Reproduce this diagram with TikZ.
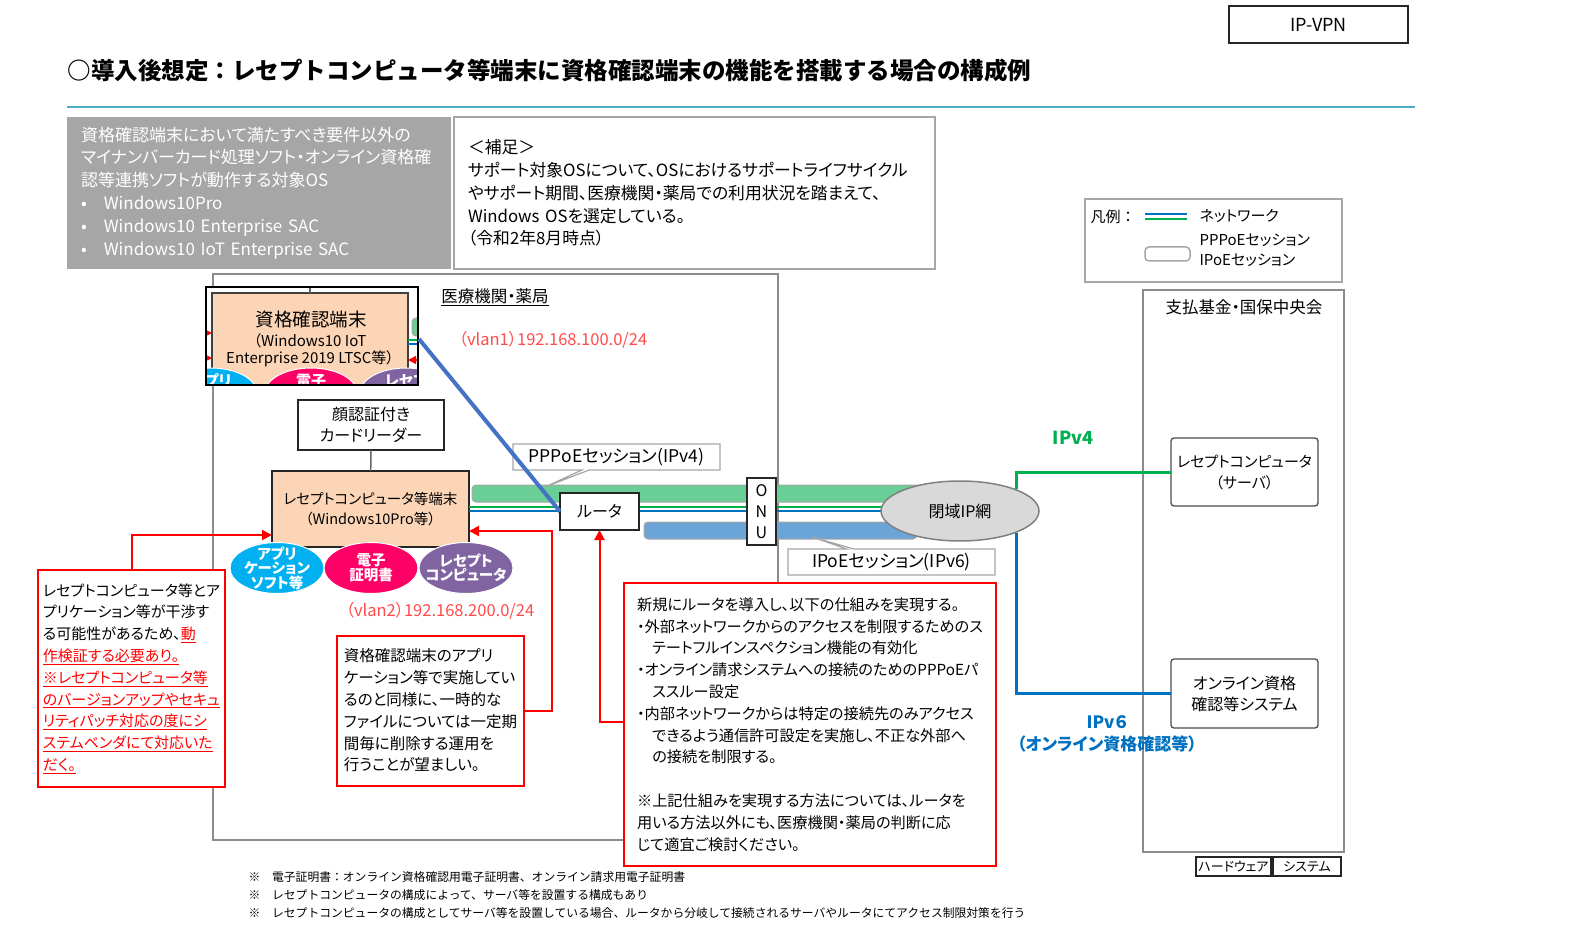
\documentclass[tikz,border=0pt]{standalone}
\usepackage{fontspec}
\setmainfont{Noto Sans CJK JP}[RawFeature=+palt]
\newfontfamily\plainjp{Noto Sans CJK JP}
\usetikzlibrary{shapes.geometric, shapes.callouts, arrows.meta, positioning}
\definecolor{peach}{HTML}{FBD5B5}
\definecolor{osgray}{HTML}{A6A6A6}
\definecolor{framegray}{HTML}{A6A6A6}
\definecolor{pppoegreen}{HTML}{6ACF97}
\definecolor{ipoeblue}{HTML}{6BA5D8}
\definecolor{netgreen}{HTML}{00B050}
\definecolor{netblue}{HTML}{0070C0}
\definecolor{diagblue}{HTML}{4472C4}
\definecolor{softcyan}{HTML}{00B0F0}
\definecolor{softpink}{HTML}{FF0066}
\definecolor{softpurple}{HTML}{8064A2}
\definecolor{cloudgray}{HTML}{D9D9D9}
\definecolor{vlanred}{HTML}{FF4B4B}
\definecolor{tealline}{HTML}{4BACC6}
\newcommand{\setfs}[2]{\fontsize{#1}{#2}\selectfont}
\newcommand{\redul}[1]{\textcolor{red}{\underline{#1}}}

\begin{document}
\begin{tikzpicture}[x=1pt, y=-1pt,
  frame node/.style={draw=framegray, line width=1.2pt, inner sep=0pt, outer sep=0pt},
  main node/.style={draw=black!85, line width=1.3pt, fill=white, align=center, inner sep=0pt, outer sep=0pt, font=\setfs{16}{21}},
  soft node/.style={ellipse, draw=white, line width=1pt, minimum width=94pt, minimum height=51pt, inner sep=-9pt, text=white, align=center, font=\bfseries\setfs{14.5}{14.5}},
  note node/.style={draw=red, line width=2pt, fill=white, align=left, inner sep=5pt, outer sep=0pt},
  session node/.style={rectangle callout, draw=framegray, line width=1.2pt, fill=white, minimum width=207pt, minimum height=26pt, inner sep=0pt, font=\setfs{17.5}{20}},
  pill/.style={draw=framegray, line width=1pt, rounded corners=4pt},
  red arrow/.style={draw=red, line width=2pt, -{Triangle[length=10pt,width=10pt]}},
  green net/.style={draw=netgreen, line width=2.5pt},
  blue net/.style={draw=netblue, line width=2.5pt}]

  \useasboundingbox (0,0) rectangle (1588,949);

  \node[main node, minimum width=179pt, minimum height=37pt, font=\setfs{18}{22}] (vpn) at (1318.5,24.5) {IP-VPN};
  \node[anchor=west, font=\plainjp\bfseries\setfs{23.5}{28}] (title) at (64,71) {○導入後想定：レセプトコンピュータ等端末に資格確認端末の機能を搭載する場合の構成例};
  \draw[draw=tealline, line width=2pt] (67,107) -- (1415,107);

  \node[fill=osgray, inner sep=0pt, minimum width=384pt, minimum height=152pt, text width=356pt, align=left, text=white, font=\setfs{17}{22.8}] (os) at (259,193) {資格確認端末において満たすべき要件以外の\\マイナンバーカード処理ソフト・オンライン資格確\\認等連携ソフトが動作する対象OS\\•\quad Windows10Pro\\•\quad Windows10 Enterprise SAC\\•\quad Windows10 IoT Enterprise SAC};
  \node[frame node, minimum width=481pt, minimum height=152pt, text width=453pt, align=left, font=\setfs{16.8}{22.8}] (note) at (694.5,193) {＜補足＞\\サポート対象OSについて、OSにおけるサポートライフサイクル\\やサポート期間、医療機関・薬局での利用状況を踏まえて、\\Windows OSを選定している。\\（令和2年8月時点）};

  \node[frame node, minimum width=257pt, minimum height=83pt] (legend) at (1213.5,240.5) {};
  \node[anchor=west, font=\plainjp\setfs{15}{18}] (legend title) at (1087,217) {凡例：};
  \draw[blue net] (1145,214) -- (1187,214);
  \draw[green net] (1145,219) -- (1187,219);
  \node[anchor=west, font=\setfs{15}{18}] (legend net) at (1196,216) {ネットワーク};
  \draw[pill, fill=white, line width=1.5pt] (1145,247) rectangle (1190,261);
  \node[anchor=west, align=left, font=\setfs{15}{20}] (legend session) at (1196,250) {PPPoEセッション\\IPoEセッション};

  \node[frame node, draw=black!45, minimum width=565pt, minimum height=566pt] (hosp) at (495.5,557) {};
  \node[font=\setfs{16.5}{20}] (hosp label) at (495,297) {\underline{医療機関・薬局}};
  \node[frame node, draw=black!45, minimum width=201pt, minimum height=562pt] (fund) at (1243.5,571) {};
  \node[font=\setfs{16.5}{20}] (fund label) at (1244,307) {支払基金・国保中央会};

  \begin{scope}
    \clip (206,287) rectangle (418,385);
    \fill[white] (206,287) rectangle (418,385);
    \node[fill=peach, draw=black!75, line width=1.2pt, minimum width=196pt, minimum height=100pt, inner sep=0pt] (inset) at (310,343) {};
    \node[font=\setfs{18.5}{22}] (inset title) at (311,319) {資格確認端末};
    \node[font=\setfs{15}{17}, align=center] (inset os) at (310,350) {（Windows10 IoT\\Enterprise 2019 LTSC等）};
    \foreach \x/\c/\t in {211/softcyan/アプリ, 311/softpink/電子, 406/softpurple/レセプ} {
      \node[soft node, fill=\c, minimum width=92pt, minimum height=50pt] (inset \c) at (\x,393) {};
      \node[text=white, font=\bfseries\setfs{15}{15}] at (\x,381) {\t};}
    \draw[red arrow, line width=1.5pt, -{Triangle[length=8pt,width=8pt]}] (198,333) -- (212,333);
    \draw[red arrow, line width=1.5pt, -{Triangle[length=8pt,width=8pt]}] (198,358) -- (212,358);
    \draw[red arrow, line width=1.5pt, -{Triangle[length=8pt,width=8pt]}] (428,360) -- (408,360);
    \draw[pill, fill=pppoegreen] (412,318) rectangle (440,336);
    \draw[green net, line width=2pt] (408,340) -- (420,340);
    \draw[blue net, line width=2pt] (408,344) -- (420,344);
    \draw[draw=black!60, line width=1.5pt] (310,287) -- (310,293);
  \end{scope}
  \node[draw=black, line width=1.3pt, minimum width=212pt, minimum height=98pt, inner sep=0pt] (inset frame) at (312,336) {};
  \coordinate (inset port) at (419,339);
  \node[text=vlanred, font=\setfs{16.5}{18}] (vlan1) at (553,340) {（vlan1）192.168.100.0/24};

  \node[main node, minimum width=146pt, minimum height=50pt] (reader) at (371,425) {顔認証付き\\カードリーダー};
  \node[main node, fill=peach, minimum width=197pt, minimum height=76pt, font=\setfs{14.5}{20}] (term) at (370.5,509) {レセプトコンピュータ等端末\\（Windows10Pro等）};
  \draw[draw=black!60, line width=1.5pt] (reader) -- (term);
  \foreach \x/\c/\n/\t in {277/softcyan/app/{アプリ\\ケーション\\ソフト等}, 371/softpink/cert/{電子\\証明書}, 466/softpurple/rece/{レセプト\\コンピュータ}}
    \node[soft node, fill=\c] (\n) at (\x,568) {\t};
  \node[text=vlanred, font=\setfs{16.5}{18}] (vlan2) at (440,611) {（vlan2）192.168.200.0/24};

  \node[pill, fill=pppoegreen, minimum width=452pt, minimum height=17pt, inner sep=0pt] (pppoe pipe) at (698,493.5) {};
  \node[pill, fill=ipoeblue, minimum width=273pt, minimum height=17pt, inner sep=0pt] (ipoe pipe) at (780.5,530.5) {};
  \coordinate (cloud c) at (960,511);
  \draw[green net] ([yshift=2pt]term.east) -- ([yshift=2pt]term.east -| cloud c);
  \draw[blue net] ([yshift=-2pt]term.east) -- ([yshift=-2pt]term.east -| cloud c);

  \node[main node, minimum width=79pt, minimum height=37pt] (router) at (599.5,511.5) {ルータ};
  \node[main node, minimum width=29pt, minimum height=67pt, font=\setfs{16}{21}] (onu) at (761.5,511.5) {O\\N\\U};
  \node[ellipse, draw=black!50, fill=cloudgray, line width=1.5pt, minimum width=158pt, minimum height=60pt, font=\setfs{16}{20}] (cloud) at (cloud c) {閉域IP網};
  \node[session node, callout absolute pointer={(545,487)}] (pppoe label) at (616.5,457) {PPPoEセッション(IPv4)};
  \node[session node, callout absolute pointer={(812,537)}] (ipoe label) at (891.5,562) {IPoEセッション(IPv6)};
  \draw[draw=diagblue, line width=4pt] (inset port) -- (router.west);

  \node[main node, rounded corners=3pt, draw=black!70, minimum width=147pt, minimum height=68pt, font=\setfs{15}{21}] (server) at (1244.5,472) {レセプトコンピュータ\\（サーバ）};
  \node[main node, rounded corners=3pt, draw=black!70, minimum width=147pt, minimum height=69pt] (online) at (1244.5,693.5) {オンライン資格\\確認等システム};
  \draw[green net, line width=3pt] (cloud.21) |- (server.west);
  \draw[blue net, line width=3pt] (cloud.-21) |- (online.west);
  \node[text=netgreen, font=\bfseries\setfs{18}{22}] (v4) at (1073,438) {IPv4};
  \node[text=netblue, align=center, font=\bfseries\setfs{17}{22}] (v6) at (1107,734) {IPv６\\（オンライン資格確認等）};

  \node[main node, minimum width=75pt, minimum height=19pt, font=\setfs{13}{15}] (hw) at (1233.5,866.5) {ハードウェア};
  \node[main node, minimum width=68pt, minimum height=19pt, font=\setfs{13}{15}] (sys) at (1307,866.5) {システム};

  \node[note node, minimum width=187pt, minimum height=217pt, font=\setfs{15}{21.8}] (risk) at (131.5,678.5) {レセプトコンピュータ等とア\\プリケーション等が干渉す\\る可能性があるため、\redul{動}\\\redul{作検証する必要あり。}\\\redul{※レセプトコンピュータ等}\\\redul{のバージョンアップやセキュ}\\\redul{リティパッチ対応の度にシ}\\\redul{ステムベンダにて対応いた}\\\redul{だく。}};
  \node[note node, minimum width=187pt, minimum height=150pt, font=\setfs{15.5}{21.8}] (tempfile) at (430.5,710.5) {資格確認端末のアプリ\\ケーション等で実施してい\\るのと同様に、一時的な\\ファイルについては一定期\\間毎に削除する運用を\\行うことが望ましい。};
  \node[note node, minimum width=372pt, minimum height=283pt, font=\setfs{15.2}{21.8}] (router note) at (810,724.5) {新規にルータを導入し、以下の仕組みを実現する。\\・外部ネットワークからのアクセスを制限するためのス\\\hspace*{1em}テートフルインスペクション機能の有効化\\・オンライン請求システムへの接続のためのPPPoEパ\\\hspace*{1em}ススルー設定\\・内部ネットワークからは特定の接続先のみアクセス\\\hspace*{1em}できるよう通信許可設定を実施し、不正な外部へ\\\hspace*{1em}の接続を制限する。\\[21.8pt]※上記仕組みを実現する方法については、ルータを\\用いる方法以外にも、医療機関・薬局の判断に応\\じて適宜ご検討ください。};
  \draw[red arrow] (risk.north) |- ([yshift=12pt]term.south west);
  \draw[red arrow] (tempfile.east) -- ++(28,0) |- ([yshift=16pt]term.south east);
  \draw[red arrow] ([yshift=3pt]router note.west) -| (router.south);

  \node[anchor=north west, align=left, font=\plainjp\setfs{11.8}{18}] (footnotes) at (245,868) {※\quad 電子証明書：オンライン資格確認用電子証明書、オンライン請求用電子証明書\\※\quad レセプトコンピュータの構成によって、サーバ等を設置する構成もあり\\※\quad レセプトコンピュータの構成としてサーバ等を設置している場合、ルータから分岐して接続されるサーバやルータにてアクセス制限対策を行う};
\end{tikzpicture}
\end{document}
